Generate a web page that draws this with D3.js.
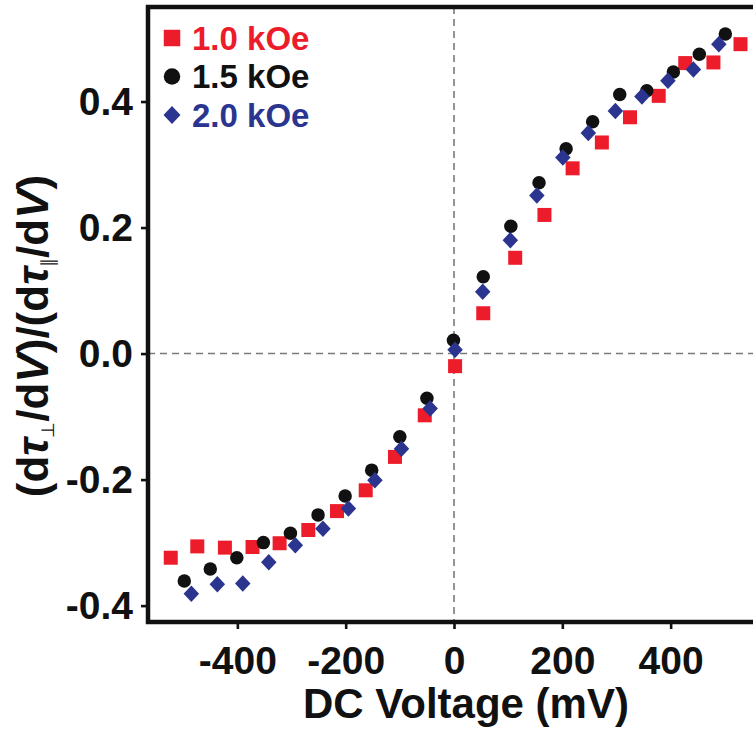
<!DOCTYPE html>
<html>
<head>
<meta charset="utf-8">
<script src="https://cdn.jsdelivr.net/npm/d3@7"></script>
<style>
  html, body { margin: 0; padding: 0; background: #fff; }
  svg { display: block; font-family: "Liberation Sans", Arial, Helvetica, sans-serif; font-weight: bold; }
</style>
</head>
<body>
<svg id="chart" width="753" height="734"></svg>
<script>
// Field series shown in the legend
const fieldLabels = ["1.0 kOe", "1.5 kOe", "2.0 kOe"];

// 1.0 kOe: DC voltage (mV) and torque-derivative ratio
const voltage10 = [-523, -474, -423, -372, -322, -269, -216, -163, -109, -54, 2, 54, 113, 167, 219, 273, 325, 378, 427, 479, 529];
const ratio10   = [-0.324, -0.306, -0.308, -0.307, -0.301, -0.280, -0.250, -0.217, -0.164, -0.098, -0.020, 0.064, 0.152, 0.220, 0.294, 0.335, 0.375, 0.409, 0.461, 0.462, 0.491];

// 1.5 kOe
const voltage15 = [-498, -450, -401, -352, -302, -251, -201, -152, -100, -50, -1, 54, 105, 157, 207, 256, 306, 356, 405, 453, 501];
const ratio15   = [-0.361, -0.342, -0.324, -0.300, -0.285, -0.256, -0.226, -0.185, -0.132, -0.071, 0.021, 0.122, 0.202, 0.271, 0.325, 0.368, 0.411, 0.417, 0.447, 0.475, 0.507];

// 2.0 kOe
const voltage20 = [-485, -437, -390, -342, -293, -242, -195, -146, -97, -44, 2, 53, 104, 153, 201, 248, 298, 347, 395, 442, 489];
const ratio20   = [-0.381, -0.366, -0.365, -0.331, -0.304, -0.278, -0.246, -0.201, -0.151, -0.087, 0.006, 0.098, 0.180, 0.251, 0.311, 0.350, 0.385, 0.408, 0.433, 0.451, 0.491];

const xTickValues = [-400, -200, 0, 200, 400];
const yTickValues = [-0.4, -0.2, 0.0, 0.2, 0.4];

const colors = ["#ec1c2a", "#111111", "#2b3590"];

const svg = d3.select("#chart");

const plot = { left: 148, top: 7, right: 760, bottom: 622 };

const x = d3.scaleLinear().domain([-565, 565]).range([plot.left, plot.right]);
const y = d3.scaleLinear().domain([-0.426, 0.55]).range([plot.bottom, plot.top]);

// marker shapes
function squarePath(s) { return d3.symbol().type(d3.symbolSquare).size(s * s)(); }
function circlePath(d) { return d3.symbol().type(d3.symbolCircle).size(Math.PI * d * d / 4)(); }
function diamondPath(w, h) {
  const p = d3.path();
  p.moveTo(0, -h / 2); p.lineTo(w / 2, 0); p.lineTo(0, h / 2); p.lineTo(-w / 2, 0); p.closePath();
  return p.toString();
}

// zero reference lines
const zeroG = svg.append("g")
  .attr("stroke", "#7a7a7a").attr("stroke-width", 1.6).attr("stroke-dasharray", "7,5").attr("fill", "none");
zeroG.append("line")
  .attr("x1", x(0)).attr("x2", x(0)).attr("y1", plot.top).attr("y2", plot.bottom);
zeroG.append("line")
  .attr("x1", plot.left).attr("x2", plot.right).attr("y1", y(0)).attr("y2", y(0));

// data series
const series = [
  { v: voltage10, r: ratio10, shape: squarePath(14) },
  { v: voltage15, r: ratio15, shape: circlePath(13.5) },
  { v: voltage20, r: ratio20, shape: diamondPath(15.5, 16.5) }
];

series.forEach((s, i) => {
  svg.append("g").selectAll("path")
    .data(d3.zip(s.v, s.r))
    .join("path")
    .attr("d", s.shape)
    .attr("fill", colors[i])
    .attr("transform", d => `translate(${x(d[0])},${y(d[1])})`);
});

// axes
const fmt = d => d.toFixed(1);

const yAxis = svg.append("g")
  .attr("transform", `translate(${plot.left},0)`)
  .call(d3.axisLeft(y).tickValues(yTickValues).tickFormat(fmt).tickSize(7).tickPadding(8));

const xAxis = svg.append("g")
  .attr("transform", `translate(0,${plot.bottom})`)
  .call(d3.axisBottom(x).tickValues(xTickValues).tickFormat(d => String(d)).tickSize(7).tickPadding(17));

[yAxis, xAxis].forEach(a => {
  a.select(".domain").remove();
  a.selectAll(".tick line").attr("stroke", "#111").attr("stroke-width", 2.6);
  a.selectAll(".tick text")
    .attr("fill", "#111")
    .style("font-family", "'Liberation Sans', Arial, sans-serif")
    .style("font-weight", "bold")
    .style("font-size", "39px");
});

// frame
svg.append("rect")
  .attr("x", plot.left).attr("y", plot.top)
  .attr("width", plot.right - plot.left).attr("height", plot.bottom - plot.top)
  .attr("fill", "none").attr("stroke", "#111").attr("stroke-width", 4.5);

// axis titles
svg.append("text")
  .attr("x", 466).attr("y", 718)
  .attr("text-anchor", "middle")
  .attr("fill", "#111")
  .style("font-size", "42px")
  .text("DC Voltage (mV)");

const yTitle = svg.append("text")
  .attr("transform", "translate(48,336) rotate(-90)")
  .attr("text-anchor", "middle")
  .attr("fill", "#111")
  .style("font-size", "44px");
const parts = [
  ["(d", null], ["τ", "it"], ["⊥", "sub"], ["/d", null], ["V", "it"], [")/(d", null],
  ["τ", "it"], ["∥", "sub"], ["/d", null], ["V", "it"], [")", null]
];
parts.forEach(([t, kind], i) => {
  const ts = yTitle.append("tspan").text(t);
  if (kind === "it") ts.style("font-style", "italic");
  if (kind === "sub") ts.style("font-size", "18px").style("font-weight", "normal").attr("dy", 6);
  // back to the main baseline after a subscript
  if (i > 0 && parts[i - 1][1] === "sub") ts.attr("dy", -6);
});

// legend
const legend = svg.append("g");
const legendY = [38, 76.5, 115];
const legendShapes = [squarePath(16.5), circlePath(16.5), diamondPath(17, 18)];
fieldLabels.forEach((label, i) => {
  legend.append("path")
    .attr("d", legendShapes[i])
    .attr("fill", colors[i])
    .attr("transform", `translate(172,${legendY[i]})`);
  legend.append("text")
    .attr("x", 192).attr("y", legendY[i] + 11.5)
    .attr("fill", colors[i])
    .style("font-size", "33px")
    .text(label);
});
</script>
</body>
</html>
